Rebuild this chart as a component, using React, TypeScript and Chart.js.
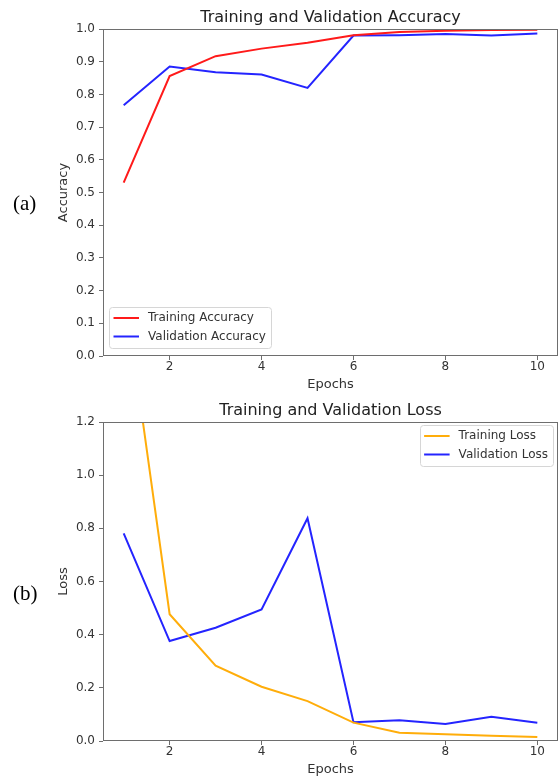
import React, { useEffect, useRef } from 'react';
import { Chart, registerables } from 'chart.js';

Chart.register(...registerables);

const epochs = [1, 2, 3, 4, 5, 6, 7, 8, 9, 10];
const trainAcc = [0.53, 0.856, 0.917, 0.94, 0.958, 0.981, 0.991, 0.995, 0.997, 0.998];
const valAcc = [0.767, 0.885, 0.868, 0.861, 0.82, 0.98, 0.981, 0.985, 0.98, 0.986];
const trainLoss = [1.72, 0.477, 0.283, 0.204, 0.15, 0.069, 0.031, 0.025, 0.02, 0.015];
const valLoss = [0.781, 0.376, 0.426, 0.495, 0.838, 0.071, 0.078, 0.064, 0.091, 0.069];

const xTicks = [2, 4, 6, 8, 10];
const accTicks = [0, 0.1, 0.2, 0.3, 0.4, 0.5, 0.6, 0.7, 0.8, 0.9, 1.0];
const lossTicks = [0, 0.2, 0.4, 0.6, 0.8, 1.0, 1.2];

const FONT = 'DejaVu Sans';
const TEXT = '#333333';
const AXIS = '#6e6e6e';

type Series = { label: string; values: number[]; color: string };
type PanelCfg = {
  title: string;
  yLabel: string;
  series: Series[];
  yTicks: number[];
  yMax: number;
  padTop: number;
  xAxisH: number;
  legend: 'lowerleft' | 'upperright';
};

function overlayPlugin(cfg: PanelCfg) {
  return {
    id: 'overlay',
    afterDraw(chart: any) {
      const ctx: CanvasRenderingContext2D = chart.ctx;
      const a = chart.chartArea;
      ctx.save();
      // frame
      ctx.strokeStyle = AXIS;
      ctx.lineWidth = 1;
      ctx.strokeRect(Math.round(a.left) + 0.5, Math.round(a.top) + 0.5, Math.round(a.right - a.left) - 1, Math.round(a.bottom - a.top) - 1);
      // title
      ctx.fillStyle = '#222';
      ctx.font = `16px "${FONT}"`;
      ctx.textAlign = 'center';
      ctx.textBaseline = 'middle';
      ctx.fillText(cfg.title, (a.left + a.right) / 2, a.top - 11);
      // x label
      ctx.fillStyle = TEXT;
      ctx.font = `13px "${FONT}"`;
      ctx.fillText('Epochs', (a.left + a.right) / 2, a.bottom + 29);
      // y label
      ctx.save();
      ctx.translate(64, (a.top + a.bottom) / 2);
      ctx.rotate(-Math.PI / 2);
      ctx.fillText(cfg.yLabel, 0, 0);
      ctx.restore();
      // legend
      ctx.font = `12px "${FONT}"`;
      const tw = Math.max(...cfg.series.map((s) => ctx.measureText(s.label).width));
      const w = 4.5 + 25.5 + 9 + tw + 5;
      const h = 41;
      let x0: number, y0: number;
      if (cfg.legend === 'lowerleft') {
        x0 = a.left + 6;
        y0 = a.bottom - 8 - h;
      } else {
        x0 = a.right - 5 - w;
        y0 = a.top + 3;
      }
      ctx.fillStyle = 'rgba(255,255,255,0.85)';
      ctx.strokeStyle = '#d6d6d6';
      ctx.lineWidth = 1;
      ctx.beginPath();
      (ctx as any).roundRect(Math.round(x0) + 0.5, Math.round(y0) + 0.5, Math.round(w), h, 3);
      ctx.fill();
      ctx.stroke();
      cfg.series.forEach((s, i) => {
        const yy = y0 + 11 + i * 18.5;
        ctx.strokeStyle = s.color;
        ctx.lineWidth = 2;
        ctx.beginPath();
        ctx.moveTo(x0 + 4.5, yy);
        ctx.lineTo(x0 + 30, yy);
        ctx.stroke();
        ctx.fillStyle = TEXT;
        ctx.textAlign = 'left';
        ctx.textBaseline = 'middle';
        ctx.fillText(s.label, x0 + 39, yy);
      });
      ctx.restore();
    },
  };
}

function buildConfig(cfg: PanelCfg): any {
  return {
    type: 'line',
    data: {
      datasets: cfg.series.map((s) => ({
        label: s.label,
        data: epochs.map((e, i) => ({ x: e, y: s.values[i] })),
        borderColor: s.color,
        backgroundColor: s.color,
        borderWidth: 2,
        pointRadius: 0,
        tension: 0,
        fill: false,
      })),
    },
    options: {
      animation: false,
      responsive: false,
      maintainAspectRatio: false,
      devicePixelRatio: 1,
      events: [],
      layout: { padding: { top: cfg.padTop, right: 2, left: 0, bottom: 0 } },
      plugins: {
        legend: { display: false },
        title: { display: false },
        tooltip: { enabled: false },
      },
      scales: {
        x: {
          type: 'linear',
          min: 0.55,
          max: 10.45,
          afterBuildTicks: (s: any) => {
            s.ticks = xTicks.map((v) => ({ value: v }));
          },
          afterFit: (s: any) => {
            s.height = cfg.xAxisH;
          },
          border: { display: false },
          grid: { drawOnChartArea: false, drawTicks: true, tickLength: 4, color: AXIS, lineWidth: 1 },
          ticks: {
            color: TEXT,
            font: { family: FONT, size: 12 },
            padding: 0,
            maxRotation: 0,
            autoSkip: false,
            callback: (v: any) => String(v),
          },
        },
        y: {
          type: 'linear',
          min: 0,
          max: cfg.yMax,
          afterBuildTicks: (s: any) => {
            s.ticks = cfg.yTicks.map((v) => ({ value: v }));
          },
          afterFit: (s: any) => {
            s.width = 103;
          },
          border: { display: false },
          grid: { drawOnChartArea: false, drawTicks: true, tickLength: 4, color: AXIS, lineWidth: 1 },
          ticks: {
            color: TEXT,
            font: { family: FONT, size: 12 },
            padding: 4,
            autoSkip: false,
            callback: (v: any) => Number(v).toFixed(1),
          },
        },
      },
    },
    plugins: [overlayPlugin(cfg)],
  };
}

const accPanel: PanelCfg = {
  title: 'Training and Validation Accuracy',
  yLabel: 'Accuracy',
  series: [
    { label: 'Training Accuracy', values: trainAcc, color: '#ff1a1a' },
    { label: 'Validation Accuracy', values: valAcc, color: '#2424ff' },
  ],
  yTicks: accTicks,
  yMax: 1.0,
  padTop: 29,
  xAxisH: 39,
  legend: 'lowerleft',
};

const lossPanel: PanelCfg = {
  title: 'Training and Validation Loss',
  yLabel: 'Loss',
  series: [
    { label: 'Training Loss', values: trainLoss, color: '#ffad0a' },
    { label: 'Validation Loss', values: valLoss, color: '#2424ff' },
  ],
  yTicks: lossTicks,
  yMax: 1.2,
  padTop: 27,
  xAxisH: 38,
  legend: 'upperright',
};

function Panel({ cfg, top, height }: { cfg: PanelCfg; top: number; height: number }) {
  const ref = useRef<HTMLCanvasElement | null>(null);
  useEffect(() => {
    if (!ref.current) return;
    const chart = new Chart(ref.current, buildConfig(cfg));
    return () => chart.destroy();
  }, [cfg]);
  return (
    <canvas
      ref={ref}
      width={560}
      height={height}
      style={{ position: 'absolute', left: 0, top, width: 560, height, display: 'block' }}
    />
  );
}

const labelStyle: React.CSSProperties = {
  position: 'absolute',
  left: 13,
  fontFamily: '"Liberation Serif", "Times New Roman", serif',
  fontSize: 21,
  lineHeight: '24px',
  color: '#000',
};

export default function App() {
  return (
    <div style={{ position: 'absolute', left: 0, top: 0, width: 560, height: 779, background: '#fff', overflow: 'hidden' }}>
      <Panel cfg={accPanel} top={0} height={395} />
      <Panel cfg={lossPanel} top={395} height={384} />
      <div style={{ ...labelStyle, top: 191 }}>(a)</div>
      <div style={{ ...labelStyle, top: 581 }}>(b)</div>
    </div>
  );
}
